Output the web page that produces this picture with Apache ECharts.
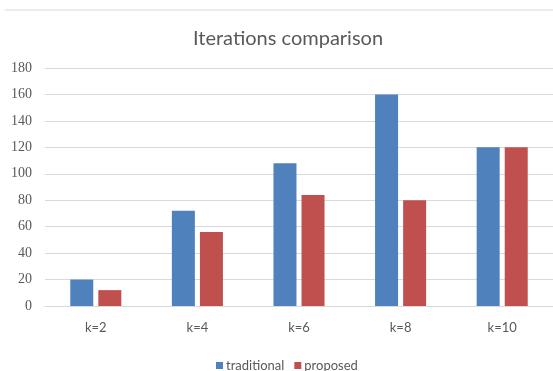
<!DOCTYPE html>
<html><head><meta charset="utf-8">
<script src="https://cdn.jsdelivr.net/npm/echarts@6/dist/echarts.min.js"></script>
<style>html,body{margin:0;padding:0;background:#fff}#c{width:553px;height:371px}</style>
</head><body><div id="c"></div>
<script>
const categories = ['k=2','k=4','k=6','k=8','k=10'];
const traditional = [20, 72, 108, 160, 120];
const proposed = [12, 56, 84, 80, 120];
const seriesNames = ['traditional','proposed'];
const chart = echarts.init(document.getElementById('c'));
chart.setOption({
  animation:false,
  backgroundColor:'#fff',
  title:{text:'Iterations comparison',left:188,top:24,
    textStyle:{fontFamily:'Lato',fontWeight:'normal',fontSize:20,color:'#595959'}},
  graphic:[{type:'line',shape:{x1:5,y1:10,x2:553,y2:10},style:{stroke:'#d9d9d9',lineWidth:1}}],
  legend:{bottom:-6,left:211,itemWidth:7,itemHeight:7,itemGap:10,icon:'rect',
    textStyle:{fontFamily:'Lato',fontSize:13,color:'#595959',padding:[0,0,0,-2]},data:seriesNames},
  grid:{left:45,right:-2,top:68,bottom:65,containLabel:false},
  xAxis:{type:'category',data:categories,
    axisLine:{lineStyle:{color:'#d9d9d9'}},axisTick:{show:false},
    axisLabel:{fontFamily:'Lato',fontSize:13,color:'#595959',margin:15}},
  yAxis:{type:'value',min:0,max:180,interval:20,
    axisLine:{show:false},axisTick:{show:false},
    splitLine:{lineStyle:{color:'#d9d9d9'}},
    axisLabel:{fontFamily:'Liberation Serif',fontSize:14,color:'#595959',margin:13}},
  series:[
    {name:seriesNames[0],type:'bar',data:traditional,barWidth:23,barGap:'22%',itemStyle:{color:'#4f81bd'}},
    {name:seriesNames[1],type:'bar',data:proposed,barWidth:23,itemStyle:{color:'#c0504d'}}
  ]
});
</script></body></html>
